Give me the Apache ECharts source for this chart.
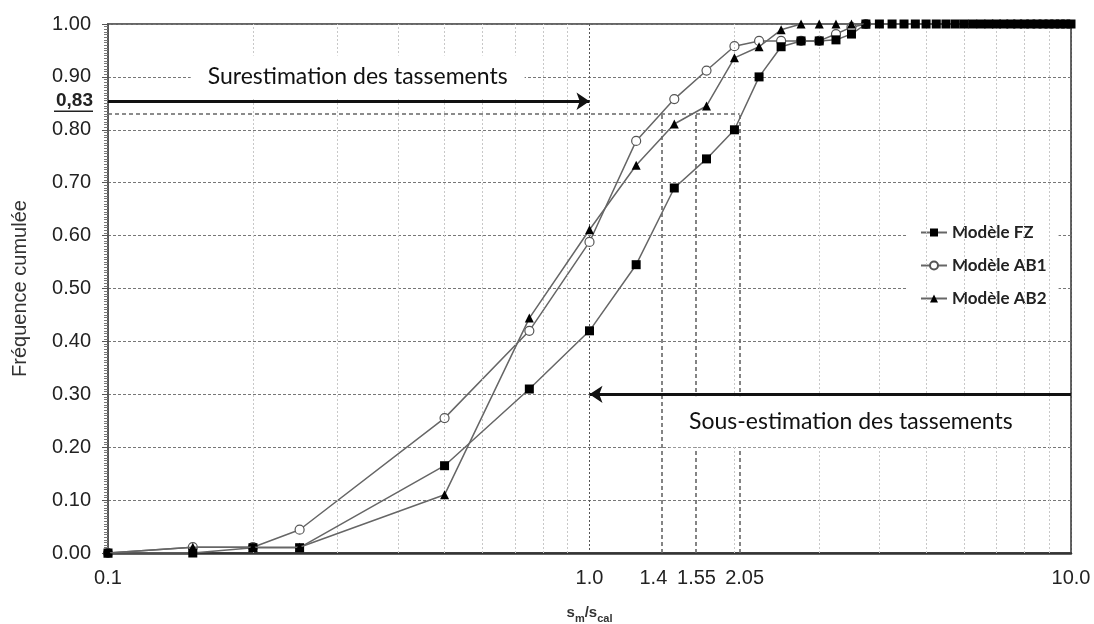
<!DOCTYPE html>
<html><head><meta charset="utf-8">
<script src="https://cdn.jsdelivr.net/npm/echarts@6/dist/echarts.min.js"></script>
<style>html,body{margin:0;padding:0;background:#fff}#c{width:1094px;height:624px}</style>
</head><body><div id="c"></div>
<script>
// ---------- data ----------
const seriesNames = ['Modèle FZ', 'Modèle AB1', 'Modèle AB2'];
const fzX = [0.1, 0.15, 0.2, 0.25, 0.5, 0.75, 1.0, 1.25, 1.5, 1.75, 2.0, 2.25, 2.5, 2.75, 3.0, 3.25, 3.5,
  3.75, 4.0, 4.25, 4.5, 4.75, 5.0, 5.25, 5.5, 5.75, 6.0, 6.25, 6.5, 6.75, 7.0, 7.25, 7.5, 7.75,
  8.0, 8.25, 8.5, 8.75, 9.0, 9.25, 9.5, 9.75, 10.0];
const fzY = [0, 0, 0.01, 0.01, 0.165, 0.31, 0.42, 0.545, 0.69, 0.745, 0.80, 0.90, 0.957, 0.968, 0.968, 0.970, 0.981,
  1, 1, 1, 1, 1, 1, 1, 1, 1, 1, 1, 1, 1, 1, 1, 1, 1,
  1, 1, 1, 1, 1, 1, 1, 1, 1];
const abX = [0.1, 0.15, 0.2, 0.25, 0.5, 0.75, 1.0, 1.25, 1.5, 1.75, 2.0, 2.25, 2.5, 2.75, 3.0, 3.25, 3.5, 3.75];
const ab1Y = [0, 0.011, 0.011, 0.044, 0.255, 0.42, 0.588, 0.779, 0.858, 0.912, 0.958, 0.968, 0.968, 0.968, 0.968, 0.981, 0.994, 1];
const ab2Y = [0, 0.011, 0.011, 0.011, 0.11, 0.444, 0.611, 0.733, 0.811, 0.845, 0.936, 0.957, 0.989, 1, 1, 1, 1, 1];
const minorGridX = [0.2, 0.3, 0.4, 0.5, 0.6, 0.7, 0.8, 0.9, 2, 3, 4, 5, 6, 7, 8, 9];
const refLineX = [1.41, 1.66, 2.05];
const refLineLabels = ['1.4', '1.55', '2.05'];
const refLevel = 0.83;
const refLevelLabel = '0,83';
const overArrowY = 0.854;
const underArrowY = 0.30;
const overText = 'Surestimation des tassements';
const overTextPos = [0.33, 0.9];
const underText = 'Sous-estimation des tassements';
const underTextPos = [3.49, 0.248];
const xName = '{b|s}{s|m}{b|/s}{s|cal}';
const yName = 'Fréquence cumulée';

// ---------- chart ----------
const chart = echarts.init(document.getElementById('c'));
const pairs = (xs, ys) => xs.map((x, i) => [x, ys[i]]);
const AX = 'Liberation Sans, Arial, sans-serif';
const lineCol = '#666';
const refLabelPad = [[0, 16, 0, 0], [0, 0, 0, 2], [0, 0, 0, 10]];

const option = {
  animation: false,
  backgroundColor: '#fff',
  grid: { left: 108, right: 23, top: 24, bottom: 71, containLabel: false, outerBoundsMode: 'none',
    show: true, borderColor: '#666', borderWidth: 2 },
  legend: {
    data: seriesNames, orient: 'vertical', left: 907, top: 210,
    padding: [14, 12, 14, 13], itemGap: 16, itemWidth: 26, itemHeight: 10,
    backgroundColor: '#fff',
    textStyle: { fontFamily: 'Lato', fontWeight: 'bold', fontSize: 17, color: '#222' }
  },
  xAxis: {
    type: 'log', logBase: 10, min: 0.1, max: 10,
    name: xName, nameLocation: 'middle', nameGap: 52,
    nameTextStyle: { rich: {
      b: { fontFamily: AX, fontWeight: 'bold', fontSize: 15, color: '#333', lineHeight: 19, verticalAlign: 'top' },
      s: { fontFamily: AX, fontWeight: 'bold', fontSize: 11, color: '#333', lineHeight: 19, verticalAlign: 'bottom' }
    } },
    axisLine: { lineStyle: { color: '#333', width: 2.5 } },
    axisTick: { show: false },
    axisLabel: { margin: 15, fontFamily: AX, fontSize: 20, color: '#222',
      formatter: v => Number(v).toFixed(1) },
    splitLine: { show: true, lineStyle: { color: '#555', type: [2, 2], width: 1 } }
  },
  yAxis: {
    type: 'value', min: 0, max: 1, interval: 0.1,
    name: yName, nameLocation: 'middle', nameGap: 78,
    nameTextStyle: { fontFamily: AX, fontSize: 20, color: '#333' },
    axisLine: { show: true, lineStyle: { color: '#555', width: 1.5 } },
    axisTick: { show: true, length: 6, lineStyle: { color: '#555' } },
    minorTick: { show: true, splitNumber: 20, length: 4, lineStyle: { color: '#777' } },
    axisLabel: { margin: 17, fontFamily: AX, fontSize: 20, color: '#222',
      formatter: v => Number(v).toFixed(2) },
    splitLine: { show: true, lineStyle: { color: '#777', type: [3, 2], width: 1.2 } }
  },
  series: [
    {
      name: 'minorGrid', type: 'line', data: [], z: 1, silent: true,
      markLine: { silent: true, symbol: 'none', label: { show: false },
        lineStyle: { color: '#c8c8c8', type: [2, 2], width: 1 },
        data: minorGridX.map(v => ({ xAxis: v })) }
    },
    {
      name: 'annot', type: 'line', data: [], z: 2, silent: true, clip: false,
      markLine: {
        silent: true, symbol: 'none', animation: false,
        lineStyle: { color: '#666', type: [4, 3], width: 1.6 },
        label: { show: false },
        data: [
          [{ coord: [0.1, refLevel] }, { coord: [refLineX[2], refLevel] }],
          ...refLineX.map((x, i) => [
            { coord: [x, 0], name: refLineLabels[i],
              label: { show: true, position: 'start', distance: 15, formatter: '{b}',
                padding: refLabelPad[i], fontFamily: AX, fontSize: 20, color: '#222' } },
            { coord: [x, refLevel] }
          ]),
          [{ coord: [0.1, overArrowY], symbol: 'none',
             lineStyle: { color: '#111', type: 'solid', width: 3 } },
           { coord: [1.0, overArrowY], symbol: 'arrow', symbolSize: 13 }],
          [{ coord: [10, underArrowY], symbol: 'none',
             lineStyle: { color: '#111', type: 'solid', width: 3 } },
           { coord: [1.0, underArrowY], symbol: 'arrow', symbolSize: 13 }]
        ]
      }
    },
    {
      name: seriesNames[0], type: 'line', z: 5, data: pairs(fzX, fzY),
      symbol: 'rect', symbolSize: 9, showAllSymbol: true,
      lineStyle: { color: lineCol, width: 1.5 },
      itemStyle: { color: '#000', borderColor: '#000', borderWidth: 0 }
    },
    {
      name: seriesNames[1], type: 'line', z: 4, data: pairs(abX, ab1Y),
      symbol: 'circle', symbolSize: 9, showAllSymbol: true,
      lineStyle: { color: lineCol, width: 1.5 },
      itemStyle: { color: '#fff', borderColor: '#555', borderWidth: 1.2 }
    },
    {
      name: seriesNames[2], type: 'line', z: 6, data: pairs(abX, ab2Y),
      symbol: 'triangle', symbolSize: 9, showAllSymbol: true,
      lineStyle: { color: lineCol, width: 1.5 },
      itemStyle: { color: '#000', borderColor: '#000', borderWidth: 0 }
    }
  ]
};
chart.setOption(option);

const p1 = chart.convertToPixel({ gridIndex: 0 }, overTextPos);
const p2 = chart.convertToPixel({ gridIndex: 0 }, underTextPos);
const pArrow = chart.convertToPixel({ gridIndex: 0 }, [0.1, overArrowY]);
const TXT = { fontFamily: 'Lato', fontSize: 23, fill: '#111' };
chart.setOption({
  graphic: [
    { type: 'text', z: 50, x: p1[0], y: p1[1],
      style: Object.assign({ text: overText, align: 'center', verticalAlign: 'middle',
        backgroundColor: '#fff', padding: [10, 17] }, TXT) },
    { type: 'text', z: 50, x: p2[0], y: p2[1],
      style: Object.assign({ text: underText, align: 'center', verticalAlign: 'middle',
        backgroundColor: '#fff', padding: [14, 20] }, TXT) },
    { type: 'text', z: 50, x: pArrow[0] - 15, y: pArrow[1],
      style: { text: refLevelLabel, align: 'right', verticalAlign: 'middle',
        fontFamily: AX, fontWeight: 'bold', fontSize: 19, fill: '#222' } },
    { type: 'line', z: 50, shape: { x1: pArrow[0] - 54, y1: pArrow[1] + 10, x2: pArrow[0] - 15, y2: pArrow[1] + 10 },
      style: { stroke: '#222', lineWidth: 1.5 } }
  ]
});
</script></body></html>
